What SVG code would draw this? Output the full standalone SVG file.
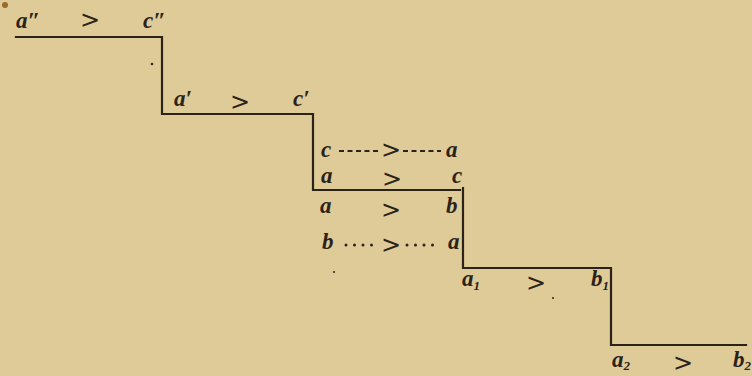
<svg xmlns="http://www.w3.org/2000/svg" width="752" height="376" viewBox="0 0 752 376">
<style>
.bg{fill:#dfcb97}
.ln{stroke:#2b231a;stroke-width:2.2;fill:none;stroke-linecap:square}
.v{font-family:"Liberation Serif",serif;font-style:italic;font-weight:bold;font-size:23px;fill:#2b231a}
.s{font-size:13px}
.gt{font-family:"DejaVu Sans",sans-serif;font-size:24px;fill:#2b231a}
.dash{stroke:#2b231a;stroke-width:2;stroke-dasharray:5 3.5;fill:none}
.dot{stroke:#2b231a;stroke-width:3;stroke-dasharray:0 8.5;stroke-linecap:round;fill:none}
.sp{fill:#2b231a}
</style>
<rect class="bg" x="0" y="0" width="752" height="376"/>
<g id="connectors">
<path class="ln" d="M16 37 H162 V114 H313 V190 H460"/>
<path class="ln" d="M463 188 V268 H611 V345 H746"/>
<path class="dash" d="M339 151 H380"/>
<path class="dash" d="M403 151 H441"/>
<path class="dot" d="M346 245 H380"/>
<path class="dot" d="M407 245 H441"/>
</g>
<g id="step1">
<text class="v" x="16" y="28">a″</text>
<text class="gt" x="80" y="28">&gt;</text>
<text class="v" x="143" y="28">c″</text>
</g>
<g id="step2">
<text class="v" x="174" y="106">a′</text>
<text class="gt" x="230" y="110">&gt;</text>
<text class="v" x="293" y="106">c′</text>
</g>
<g id="step3">
<text class="v" x="321" y="157">c</text>
<text class="gt" x="381" y="158">&gt;</text>
<text class="v" x="446" y="157">a</text>
<text class="v" x="321" y="183">a</text>
<text class="gt" x="382" y="187">&gt;</text>
<text class="v" x="452" y="183">c</text>
</g>
<g id="step4">
<text class="v" x="320" y="213">a</text>
<text class="gt" x="381" y="218">&gt;</text>
<text class="v" x="446" y="213">b</text>
<text class="v" x="322" y="249">b</text>
<text class="gt" x="381" y="253">&gt;</text>
<text class="v" x="448" y="249">a</text>
</g>
<g id="step5">
<text class="v" x="462" y="286">a<tspan class="s" dy="4">1</tspan></text>
<text class="gt" x="526" y="291">&gt;</text>
<text class="v" x="591" y="286">b<tspan class="s" dy="4">1</tspan></text>
</g>
<g id="step6">
<text class="v" x="612" y="367">a<tspan class="s" dy="3">2</tspan></text>
<text class="gt" x="673" y="371">&gt;</text>
<text class="v" x="733" y="367">b<tspan class="s" dy="3">2</tspan></text>
</g>
<circle cx="5" cy="5" r="3" fill="#9a6a2a"/>
<circle class="sp" cx="152" cy="64" r="1.3"/>
<circle class="sp" cx="334" cy="272" r="1"/>
<circle class="sp" cx="553" cy="298" r="1"/>
</svg>
